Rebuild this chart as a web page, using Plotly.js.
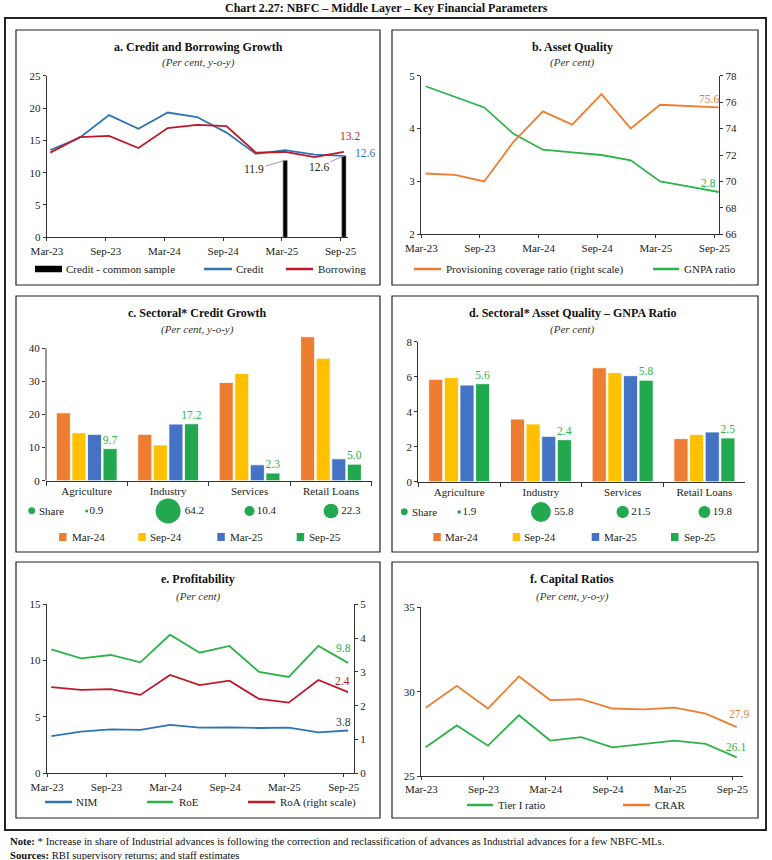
<!DOCTYPE html>
<html><head><meta charset="utf-8">
<script src="https://cdn.plot.ly/plotly-3.0.1.min.js"></script>
<style>html,body{margin:0;padding:0;background:#fff}#chart{width:772px;height:860px}</style>
</head><body><div id="chart"></div>
<script>
// ---------------- DATA ----------------
const quarters = ['Mar-23','Jun-23','Sep-23','Dec-23','Mar-24','Jun-24','Sep-24','Dec-24','Mar-25','Jun-25','Sep-25'];
// a. Credit and Borrowing Growth
const seriesNamesA = ['Credit - common sample','Credit','Borrowing'];
const creditGrowth = [13.5,15.4,18.9,16.8,19.3,18.6,16.2,12.9,13.5,12.8,12.6];
const borrowingGrowth = [13.1,15.5,15.7,13.8,16.9,17.4,17.2,13.1,13.2,12.4,13.2];
const creditCommonSample = [null,null,null,null,null,null,null,null,11.9,null,12.6];
// b. Asset Quality
const seriesNamesB = ['Provisioning coverage ratio (right scale)','GNPA ratio'];
const pcrRatio = [70.6,70.5,70.0,73.0,75.3,74.3,76.6,74.0,75.8,75.7,75.6];
const gnpaRatio = [4.8,4.6,4.4,3.9,3.6,3.55,3.5,3.4,3.0,2.9,2.8];
// c. / d. Sectoral
const sectors = ['Agriculture','Industry','Services','Retail Loans'];
const barPeriods = ['Mar-24','Sep-24','Mar-25','Sep-25'];
const sectCreditMar24 = [20.5,14.0,29.7,43.5];
const sectCreditSep24 = [14.5,10.8,32.4,37.0];
const sectCreditMar25 = [14.0,17.1,4.8,6.6];
const sectCreditSep25 = [9.7,17.2,2.3,5.0];
const creditShare = [0.9,64.2,10.4,22.3];
const sectGnpaMar24 = [5.85,3.58,6.51,2.46];
const sectGnpaSep24 = [5.95,3.30,6.23,2.70];
const sectGnpaMar25 = [5.52,2.59,6.06,2.84];
const sectGnpaSep25 = [5.6,2.4,5.8,2.5];
const gnpaShare = [1.9,55.8,21.5,19.8];
// e. Profitability
const seriesNamesE = ['NIM','RoE','RoA (right scale)'];
const nim = [3.3,3.7,3.9,3.85,4.3,4.05,4.08,4.02,4.05,3.64,3.8];
const roe = [11.0,10.2,10.5,9.85,12.3,10.7,11.3,9.0,8.55,11.3,9.8];
const roa = [2.55,2.47,2.49,2.32,2.91,2.61,2.74,2.20,2.09,2.76,2.4];
// f. Capital Ratios
const seriesNamesF = ['Tier I ratio','CRAR'];
const tier1 = [26.7,28.0,26.8,28.6,27.1,27.3,26.7,26.9,27.1,26.9,26.1];
const crar = [29.05,30.35,29.0,30.9,29.5,29.55,29.0,28.95,29.05,28.7,27.9];

// ---------------- STYLE / HELPERS ----------------
const W = 772, H = 860;
const px = v => v / W;
const py = v => 1 - v / H;
const FONT = 'Liberation Serif, Times New Roman, serif';
const COL = {orange:'#ED7D31', yellow:'#FFC000', blue:'#4472C4', green:'#22A84E',
  lblue:'#2E75B6', red:'#C0182A', lgreen:'#2DB34A', black:'#000000', text:'#222222'};
const barColors = [COL.orange, COL.yellow, COL.blue, COL.green];

function ax(extra) {
  return Object.assign({showline:true, linecolor:'#333', linewidth:1, ticks:'outside', ticklen:3,
    tickwidth:1, tickcolor:'#333', showgrid:false, zeroline:false, fixedrange:true,
    tickfont:{family:FONT, size:11, color:COL.text}}, extra);
}
const qIdx = quarters.map((q, i) => i);
const tickIdx = qIdx.filter(i => i % 2 === 0);
const tickLabels = tickIdx.map(i => quarters[i]);
function timeAxis(d0, d1, off, right, anchor) {
  return ax({domain:[px(d0), px(d1)], range:[-off - 0.01, right], tickmode:'array',
    tickvals:tickIdx.map(i => i - off), ticktext:tickLabels, anchor:anchor});
}
function yAx(top, bottom, range, dtick, anchor, extra) {
  return ax(Object.assign({domain:[py(bottom), py(top)], range:range, dtick:dtick, anchor:anchor}, extra || {}));
}
function line(x, y, xa, ya, color, name) {
  return {type:'scatter', mode:'lines', x:x, y:y, xaxis:xa, yaxis:ya, name:name,
    line:{color:color, width:1.8}, hoverinfo:'skip'};
}

// ---------------- TRACES ----------------
const traces = [];
// a
traces.push({type:'bar', x:qIdx, y:creditCommonSample, xaxis:'x', yaxis:'y', width:0.14,
  name:seriesNamesA[0], marker:{color:COL.black, line:{color:'#777', width:0.6}}, hoverinfo:'skip'});
traces.push(line(qIdx, creditGrowth, 'x', 'y', COL.lblue, seriesNamesA[1]));
traces.push(line(qIdx, borrowingGrowth, 'x', 'y', COL.red, seriesNamesA[2]));
// b
traces.push(line(qIdx, pcrRatio, 'x2', 'y3', COL.orange, seriesNamesB[0]));
traces.push(line(qIdx, gnpaRatio, 'x2', 'y2', COL.lgreen, seriesNamesB[1]));
// c & d bars
const creditSets = [sectCreditMar24, sectCreditSep24, sectCreditMar25, sectCreditSep25];
const gnpaSets = [sectGnpaMar24, sectGnpaSep24, sectGnpaMar25, sectGnpaSep25];
function barSet(sets, xa, ya) {
  sets.forEach((vals, k) => {
    const last = k === sets.length - 1;
    const t = {type:'bar', x:sectors, y:vals, xaxis:xa, yaxis:ya, name:barPeriods[k],
      marker:{color:barColors[k], line:{color:'#ffffff', width:0.8}}, hoverinfo:'skip'};
    if (last) {
      t.text = vals.map(v => v.toFixed(1));
      t.textposition = 'outside';
      t.constraintext = 'none';
      t.cliponaxis = false;
      t.textfont = {family:FONT, size:11.5, color:COL.lgreen};
    }
    traces.push(t);
  });
}
barSet(creditSets, 'x3', 'y4');
barSet(gnpaSets, 'x5', 'y6');
function shareRow(share, k, xa, ya) {
  traces.push({type:'scatter', mode:'markers+text', x:sectors, y:sectors.map(() => 0.5),
    xaxis:xa, yaxis:ya, name:'Share', cliponaxis:false,
    marker:{color:COL.green, opacity:1, line:{width:0}, size:share.map(s => Math.max(3, k * Math.sqrt(s)))},
    text:share.map(v => v.toFixed(1)), textposition:'middle right',
    textfont:{family:FONT, size:11, color:COL.text}, hoverinfo:'skip'});
}
shareRow(creditShare, 3.12, 'x4', 'y5');
shareRow(gnpaShare, 2.65, 'x6', 'y7');
// e
traces.push(line(qIdx, nim, 'x7', 'y8', COL.lblue, seriesNamesE[0]));
traces.push(line(qIdx, roe, 'x7', 'y8', COL.lgreen, seriesNamesE[1]));
traces.push(line(qIdx, roa, 'x7', 'y9', COL.red, seriesNamesE[2]));
// f
traces.push(line(qIdx, tier1, 'x8', 'y10', COL.lgreen, seriesNamesF[0]));
traces.push(line(qIdx, crar, 'x8', 'y10', COL.orange, seriesNamesF[1]));

// ---------------- LAYOUT ----------------
const shapes = [];
const annotations = [];
function rect(x0, y0, x1, y1, w) {
  shapes.push({type:'rect', xref:'paper', yref:'paper', x0:px(x0), x1:px(x1), y0:py(y0), y1:py(y1),
    line:{color:'#222', width:w}, fillcolor:'rgba(0,0,0,0)', layer:'below'});
}
function text(x, y, t, opts) {
  annotations.push(Object.assign({xref:'paper', yref:'paper', x:px(x), y:py(y), text:t, showarrow:false,
    xanchor:'center', yanchor:'middle', font:{family:FONT, size:11, color:COL.text}}, opts || {}));
}
// borders
rect(5, 18, 766, 830, 2);
rect(16, 30, 380, 285, 1.2); rect(392, 30, 758, 285, 1.2);
rect(16, 296, 380, 552, 1.2); rect(392, 296, 758, 552, 1.2);
rect(16, 562, 380, 818, 1.2); rect(392, 562, 758, 818, 1.2);
// titles
text(386, 8, '<b>Chart 2.27: NBFC – Middle Layer – Key Financial Parameters</b>', {font:{family:FONT, size:12, color:'#111'}});
const titles = [
  [198, 46.7, 62.7, 'a. Credit and Borrowing Growth', '(Per cent, y-o-y)'],
  [572, 46.7, 62.7, 'b. Asset Quality', '(Per cent)'],
  [197, 313.3, 329, 'c. Sectoral* Credit Growth', '(Per cent, y-o-y)'],
  [572, 313.3, 329, 'd. Sectoral* Asset Quality – GNPA Ratio', '(Per cent)'],
  [198, 579.3, 596, 'e. Profitability', '(Per cent)'],
  [572, 579.3, 596.7, 'f. Capital Ratios', '(Per cent, y-o-y)']
];
titles.forEach(t => {
  text(t[0], t[1], '<b>' + t[3] + '</b>', {font:{family:FONT, size:12, color:'#111'}});
  text(t[0], t[2], '<i>' + t[4] + '</i>', {font:{family:FONT, size:11, color:'#333'}});
});
// footer
text(8, 841, '<b>Note:</b> * Increase in share of Industrial advances is following the correction and reclassification of advances as Industrial advances for a few NBFC-MLs.', {xanchor:'left', font:{family:FONT, size:10.7, color:'#111'}});
text(8, 855, '<b>Sources:</b> RBI supervisory returns; and staff estimates', {xanchor:'left', font:{family:FONT, size:10.7, color:'#111'}});

// manual legends
function legLine(x0, x1, y, color, label, tx) {
  shapes.push({type:'line', xref:'paper', yref:'paper', x0:px(x0), x1:px(x1), y0:py(y), y1:py(y), line:{color:color, width:2.5}});
  text(tx, y, label, {xanchor:'left'});
}
function legBox(x0, x1, h, y, color, label, tx) {
  shapes.push({type:'rect', xref:'paper', yref:'paper', x0:px(x0), x1:px(x1), y0:py(y + h / 2), y1:py(y - h / 2), line:{width:0}, fillcolor:color});
  text(tx, y, label, {xanchor:'left'});
}
legBox(35, 62, 6.5, 269, COL.black, seriesNamesA[0], 63.5);
legLine(204, 232, 269, COL.lblue, seriesNamesA[1], 234);
legLine(286, 313, 269, COL.red, seriesNamesA[2], 315.5);
legLine(414, 441, 269, COL.orange, seriesNamesB[0], 444);
legLine(653, 679, 269, COL.lgreen, seriesNamesB[1], 682);
[[59, 69.5], [138.3, 148], [217.3, 228], [296.7, 306.5]].forEach((p, k) => legBox(p[0], p[0] + 7.5, 8, 537, barColors[k], barPeriods[k], p[1]));
[[433.3, 443], [512.7, 522], [591.7, 602], [671, 682]].forEach((p, k) => legBox(p[0], p[0] + 7.5, 8, 537, barColors[k], barPeriods[k], p[1]));
legLine(45, 72, 802, COL.lblue, seriesNamesE[0], 74);
legLine(147, 173, 802, COL.lgreen, seriesNamesE[1], 176.5);
legLine(248, 275, 802, COL.red, seriesNamesE[2], 278);
legLine(467, 493, 805, COL.lgreen, seriesNamesF[0], 496);
legLine(623, 650, 805, COL.orange, seriesNamesF[1], 653);
// share legend dots
[[31.7, 510.7], [404.3, 511.7]].forEach(p => {
  shapes.push({type:'circle', xref:'paper', yref:'paper', x0:px(p[0] - 3.4), x1:px(p[0] + 3.4), y0:py(p[1] + 3.4), y1:py(p[1] - 3.4), line:{width:0}, fillcolor:COL.green});
  text(p[0] + 5.5, p[1], 'Share', {xanchor:'left'});
});
// c y-axis line only up to last tick
shapes.push({type:'line', xref:'paper', yref:'y4', x0:px(46), x1:px(46), y0:0, y1:40, line:{color:'#333', width:1}});

// value labels
function valLabel(xa, ya, arr, color, xs, ys) {
  const i = arr.length - 1;
  annotations.push({xref:xa, yref:ya, x:i, y:arr[i], text:arr[i].toFixed(1), showarrow:false,
    xshift:xs, yshift:ys, font:{family:FONT, size:11.5, color:color}});
}
valLabel('x', 'y', borrowingGrowth, COL.red, 6, 16);
valLabel('x', 'y', creditGrowth, COL.lblue, 21, 3);
valLabel('x2', 'y3', pcrRatio, COL.orange, -10, 8);
valLabel('x2', 'y2', gnpaRatio, COL.lgreen, -10, 9);
valLabel('x7', 'y8', roe, COL.lgreen, -5, 15);
valLabel('x7', 'y9', roa, COL.red, -6, 11);
valLabel('x7', 'y8', nim, '#2b3550', -5, 8);
valLabel('x8', 'y10', crar, COL.orange, 2, 13);
valLabel('x8', 'y10', tier1, COL.lgreen, -1, 10);
// common sample labels with leader lines
creditCommonSample.forEach((v, i) => {
  if (v === null) return;
  const isLast = i === creditCommonSample.length - 1;
  annotations.push({xref:'x', yref:'y', x:i, y:v, text:v.toFixed(1), showarrow:true, arrowhead:0,
    arrowwidth:1, arrowcolor:'#999', standoff:0, ax:isLast ? -25 : -31, ay:isLast ? 11 : 9,
    font:{family:FONT, size:11.5, color:COL.text}});
});

const layout = {
  width:W, height:H, margin:{l:0, r:0, t:0, b:0}, showlegend:false,
  paper_bgcolor:'#ffffff', plot_bgcolor:'rgba(0,0,0,0)',
  font:{family:FONT, size:11, color:COL.text},
  barmode:'group', bargap:0.235, bargroupgap:0.1, hovermode:false,
  // a
  xaxis: timeAxis(46.7, 348, 0.113, 10.14, 'y'),
  yaxis: yAx(75.7, 237.3, [0, 25], 5, 'x'),
  // b
  xaxis2: timeAxis(421, 719.3, 0.147, 10.02, 'y2'),
  yaxis2: yAx(75.7, 234.3, [2, 5], 1, 'x2'),
  yaxis3: ax({overlaying:'y2', side:'right', anchor:'x2', range:[66, 78], dtick:2}),
  // c
  xaxis3: ax({domain:[px(46), px(371.7)], type:'category', range:[-0.5, 3.5], tickson:'boundaries', anchor:'y4', ticklen:4}),
  yaxis4: yAx(331.75, 480.7, [0, 45], 10, 'x3', {showline:false, tickmode:'array', tickvals:[0, 10, 20, 30, 40]}),
  xaxis4: {domain:[px(46), px(371.7)], type:'category', range:[-0.5, 3.5], visible:false, anchor:'y5', fixedrange:true},
  yaxis5: {domain:[py(522), py(500)], range:[0, 1], visible:false, anchor:'x4', fixedrange:true},
  // d
  xaxis5: ax({domain:[px(418.3), px(745.3)], type:'category', range:[-0.5, 3.5], tickson:'boundaries', anchor:'y6', ticklen:4}),
  yaxis6: yAx(341.7, 481.7, [0, 8], 2, 'x5'),
  xaxis6: {domain:[px(418.3), px(745.3)], type:'category', range:[-0.5, 3.5], visible:false, anchor:'y7', fixedrange:true},
  yaxis7: {domain:[py(523), py(501)], range:[0, 1], visible:false, anchor:'x6', fixedrange:true},
  // e
  xaxis7: timeAxis(46.7, 354, 0.145, 10.2, 'y8'),
  yaxis8: yAx(604.3, 773.3, [0, 15], 5, 'x7'),
  yaxis9: ax({overlaying:'y8', side:'right', anchor:'x7', range:[0, 5], dtick:1}),
  // f
  xaxis8: timeAxis(421, 743, 0.14, 10.2, 'y10'),
  yaxis10: yAx(607.3, 776, [25, 35], 5, 'x8'),
  shapes:shapes, annotations:annotations
};

Plotly.newPlot('chart', traces, layout, {staticPlot:true, displayModeBar:false});
</script>
</body></html>
